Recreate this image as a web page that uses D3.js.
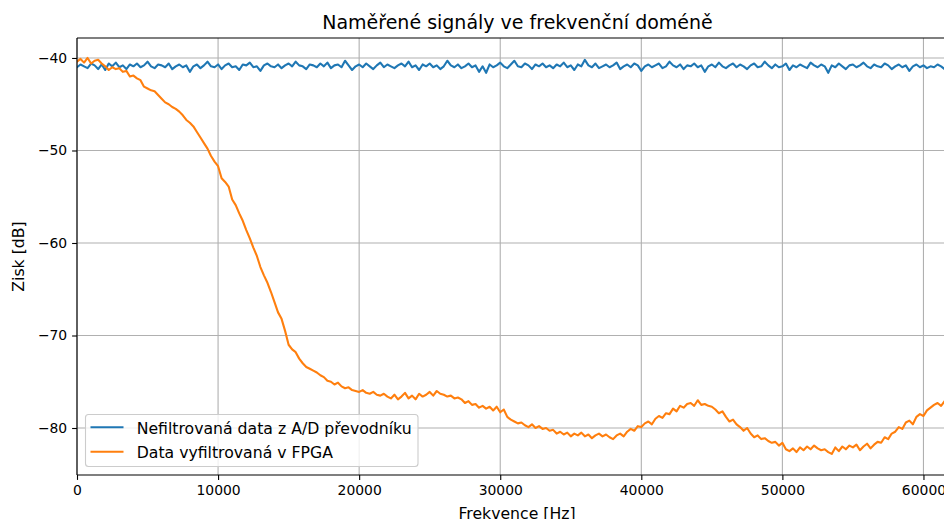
<!DOCTYPE html>
<html>
<head>
<meta charset="utf-8">
<script src="https://cdn.jsdelivr.net/npm/d3@7/dist/d3.min.js"></script>
<style>
  html, body { margin: 0; padding: 0; background: #fff; }
  svg { display: block; font-family: "DejaVu Sans", sans-serif; }
</style>
</head>
<body>
<svg id="chart" width="944" height="519"></svg>
<script>
// Frequency step of the measured spectra (Hz)
const freqStep = 250;

// Unfiltered A/D converter signal (dB)
const rawGain = [
  -41.0, -40.7, -40.9, -41.1, -40.6, -40.8, -41.2, -40.7, -41.3, -40.6,
  -40.9, -40.5, -41.0, -40.8, -41.2, -40.7, -40.9, -40.6, -41.0, -40.8,
  -40.4, -40.9, -41.1, -40.7, -40.8, -41.0, -40.6, -41.2, -40.9, -40.7,
  -41.0, -40.8, -41.5, -40.9, -40.7, -41.1, -40.8, -40.4, -40.9, -41.0,
  -40.7, -41.2, -40.8, -40.6, -41.0, -40.9, -41.3, -40.7, -40.8, -40.5,
  -41.0, -40.9, -41.4, -40.8, -40.6, -40.9, -41.0, -40.7, -41.1, -40.8,
  -40.6, -40.9, -40.4, -40.8, -40.9, -41.2, -40.7, -40.8, -41.0, -40.6,
  -40.9, -40.5, -41.1, -40.8, -40.7, -41.0, -40.3, -40.8, -41.3, -40.9,
  -40.7, -41.0, -40.6, -40.9, -41.2, -40.8, -40.5, -41.0, -40.7, -40.9,
  -41.1, -40.8, -40.6, -40.9, -40.4, -41.0, -40.8, -41.3, -40.7, -40.9,
  -40.6, -41.0, -40.8, -41.2, -40.9, -40.3, -40.8, -41.0, -40.7, -41.1,
  -40.9, -40.6, -41.0, -40.8, -41.5, -40.9, -41.6, -40.7, -41.0, -40.8,
  -40.5, -40.9, -41.1, -40.7, -40.3, -40.9, -41.0, -40.6, -40.8, -41.2,
  -40.7, -40.9, -40.6, -41.0, -40.8, -41.1, -40.7, -40.9, -40.5, -41.0,
  -40.8, -41.3, -40.7, -40.9, -40.2, -40.8, -41.0, -40.6, -41.1, -40.9,
  -40.7, -41.0, -40.8, -40.5, -41.2, -40.9, -40.7, -41.0, -40.6, -40.8,
  -41.4, -40.9, -40.7, -41.0, -40.8, -40.6, -41.1, -40.9, -40.4, -40.8,
  -41.0, -40.7, -41.2, -40.8, -40.9, -40.6, -41.0, -40.8, -41.5, -40.9,
  -40.7, -41.0, -40.5, -40.9, -41.1, -40.8, -40.6, -41.0, -40.7, -40.9,
  -41.2, -40.8, -40.6, -41.0, -40.9, -40.4, -40.8, -41.1, -40.7, -41.0,
  -40.9, -40.6, -41.3, -40.8, -41.0, -40.7, -40.9, -41.1, -40.5, -40.8,
  -41.0, -40.7, -40.9, -41.6, -40.8, -41.0, -40.6, -40.9, -41.2, -40.8,
  -40.7, -41.0, -40.8, -40.5, -40.9, -41.1, -40.7, -40.9, -41.0, -40.6,
  -40.8, -41.2, -40.9, -40.7, -41.0, -40.8, -41.4, -40.9, -40.7, -41.0,
  -40.8, -41.1, -40.9, -41.0, -40.7, -40.9, -41.2, -40.8, -41.0
];

// Signal after the FPGA filter (dB)
const filteredGain = [
  -40.4, -40.1, -40.5, -40.0, -40.6, -40.3, -40.2, -40.6, -40.9, -41.3,
  -41.0, -41.2, -41.1, -41.5, -41.4, -42.0, -41.9, -42.2, -42.4, -43.1,
  -43.3, -43.5, -43.6, -44.0, -44.4, -44.8, -45.0, -45.3, -45.5, -45.8,
  -46.2, -46.7, -47.0, -47.4, -48.0, -48.6, -49.2, -49.8, -50.6, -51.2,
  -51.7, -53.0, -53.4, -53.9, -55.3, -55.9, -56.8, -57.6, -58.6, -59.5,
  -60.5, -61.4, -62.6, -63.5, -64.3, -65.3, -66.4, -67.5, -68.2, -69.5,
  -71.0, -71.5, -71.8, -72.5, -73.0, -73.4, -73.6, -73.8, -74.0, -74.3,
  -74.5, -74.9, -75.0, -75.3, -75.1, -75.5, -75.7, -75.6, -75.9, -76.0,
  -76.1, -75.9, -76.2, -76.3, -76.1, -76.4, -76.5, -76.3, -76.6, -76.8,
  -76.4, -76.9, -76.6, -76.2, -76.8, -76.5, -76.9, -76.3, -76.6, -76.4,
  -76.1, -76.5, -76.0, -76.3, -76.4, -76.6, -76.5, -76.8, -76.7, -76.9,
  -77.3, -77.1, -77.5, -77.4, -77.8, -77.6, -77.9, -77.7, -78.1, -77.7,
  -78.3, -78.0, -78.8, -79.1, -79.3, -79.5, -79.4, -79.7, -79.9, -79.6,
  -80.0, -79.8, -80.1, -80.0, -80.3, -80.2, -80.6, -80.4, -80.7, -80.5,
  -80.9, -80.6, -80.8, -80.5, -80.9, -80.7, -81.1, -80.8, -80.6, -80.9,
  -80.7, -81.0, -81.2, -80.8, -80.6, -80.9, -80.4, -80.1, -80.3, -79.8,
  -79.9, -79.5, -79.3, -79.6, -79.0, -78.7, -78.9, -78.4, -78.5, -77.9,
  -78.2, -77.6, -77.8, -77.4, -77.3, -77.6, -77.0, -77.5, -77.4, -77.6,
  -77.7, -78.0, -78.4, -78.2, -78.8, -79.3, -79.1, -79.6, -79.9, -80.3,
  -80.0, -80.6, -81.0, -80.8, -81.2, -81.1, -81.4, -81.6, -81.5, -81.9,
  -81.6, -82.3, -82.5, -82.2, -82.6, -82.1, -82.4, -82.0, -82.3, -81.9,
  -82.2, -82.4, -82.3, -82.6, -82.8, -82.1, -82.5, -82.0, -82.3, -81.9,
  -82.1, -81.8, -82.4, -82.0, -81.7, -82.2, -81.8, -81.5, -81.6, -81.0,
  -81.2, -80.6, -80.4, -79.9, -80.1, -79.4, -79.2, -79.6, -78.8, -78.5,
  -78.7, -78.1, -77.8, -77.5, -77.3, -77.6, -77.1, -77.3, -77.0
];

const xTicks = [0, 10000, 20000, 30000, 40000, 50000, 60000];
const yTicks = [-80, -70, -60, -50, -40];
const seriesNames = ["Nefiltrovaná data z A/D převodníku", "Data vyfiltrovaná v FPGA"];
const seriesColors = ["#1f77b4", "#ff7f0e"];

const svg = d3.select("#chart");
const plot = { left: 77, top: 38, right: 994, bottom: 475 };

const x = d3.scaleLinear().domain([0, 65000]).range([plot.left, plot.right]);
const y = d3.scaleLinear().domain([-85.08, -37.84]).range([plot.bottom, plot.top]);

svg.append("defs").append("clipPath").attr("id", "plotClip")
  .append("rect")
  .attr("x", plot.left).attr("y", plot.top)
  .attr("width", plot.right - plot.left).attr("height", plot.bottom - plot.top);

// Grid
const grid = svg.append("g");
grid.selectAll("line.gx").data(xTicks).join("line")
  .attr("x1", d => x(d)).attr("x2", d => x(d))
  .attr("y1", plot.top).attr("y2", plot.bottom)
  .attr("stroke", "#b0b0b0").attr("stroke-width", 1.1);
grid.selectAll("line.gy").data(yTicks).join("line")
  .attr("x1", plot.left).attr("x2", plot.right)
  .attr("y1", d => y(d)).attr("y2", d => y(d))
  .attr("stroke", "#b0b0b0").attr("stroke-width", 1.1);

// Series
const series = [rawGain, filteredGain];
const line = d3.line()
  .x((d, i) => x(i * freqStep))
  .y(d => y(d));
const lines = svg.append("g").attr("clip-path", "url(#plotClip)");
series.forEach((vals, k) => {
  lines.append("path")
    .datum(vals)
    .attr("d", line)
    .attr("fill", "none")
    .attr("stroke", seriesColors[k])
    .attr("stroke-width", 2.1)
    .attr("stroke-linejoin", "round")
    .attr("stroke-linecap", "square");
});

// Axes
const fmtMinus = d => String(d).replace("-", "\u2212");
const xAxis = d3.axisBottom(x).tickValues(xTicks).tickSize(4.9).tickPadding(4.9).tickFormat(d => String(d));
const yAxis = d3.axisLeft(y).tickValues(yTicks).tickSize(4.9).tickPadding(4.9).tickFormat(fmtMinus);

const gx = svg.append("g").attr("transform", `translate(0,${plot.bottom})`).call(xAxis);
const gy = svg.append("g").attr("transform", `translate(${plot.left},0)`).call(yAxis);
[gx, gy].forEach(g => {
  g.select(".domain").remove();
  g.selectAll(".tick line").attr("stroke", "#000").attr("stroke-width", 1.1);
  g.selectAll(".tick text").attr("fill", "#000").style("font-size", "13.9px").style("font-family", "DejaVu Sans");
});

// Spines
svg.append("line").attr("x1", plot.left).attr("x2", plot.right).attr("y1", plot.top).attr("y2", plot.top)
  .attr("stroke", "#000").attr("stroke-width", 1.1);
svg.append("line").attr("x1", plot.left).attr("x2", plot.right).attr("y1", plot.bottom).attr("y2", plot.bottom)
  .attr("stroke", "#000").attr("stroke-width", 1.1);
svg.append("line").attr("x1", plot.left).attr("x2", plot.left).attr("y1", plot.top).attr("y2", plot.bottom)
  .attr("stroke", "#000").attr("stroke-width", 1.1);

// Title and axis labels
svg.append("text").attr("x", 517.5).attr("y", 29).attr("text-anchor", "middle")
  .style("font-size", "19px").text("Naměřené signály ve frekvenční doméně");
svg.append("text").attr("x", 517).attr("y", 518.5).attr("text-anchor", "middle")
  .style("font-size", "15.7px").text("Frekvence [Hz]");
svg.append("text").attr("transform", "translate(24,256.5) rotate(-90)").attr("text-anchor", "middle")
  .style("font-size", "15.7px").text("Zisk [dB]");

// Legend
const legend = svg.append("g");
legend.append("rect")
  .attr("x", 85.5).attr("y", 414.5).attr("width", 332.5).attr("height", 52)
  .attr("rx", 3).attr("fill", "#fff").attr("fill-opacity", 0.8)
  .attr("stroke", "#cccccc").attr("stroke-width", 1.1);
seriesNames.forEach((name, k) => {
  const yy = 427.3 + k * 24.4;
  legend.append("line").attr("x1", 90.5).attr("x2", 123.5).attr("y1", yy).attr("y2", yy)
    .attr("stroke", seriesColors[k]).attr("stroke-width", 2.1);
  legend.append("text").attr("x", 136.7).attr("y", yy + 6.2)
    .style("font-size", "15.7px").text(name);
});
</script>
</body>
</html>
